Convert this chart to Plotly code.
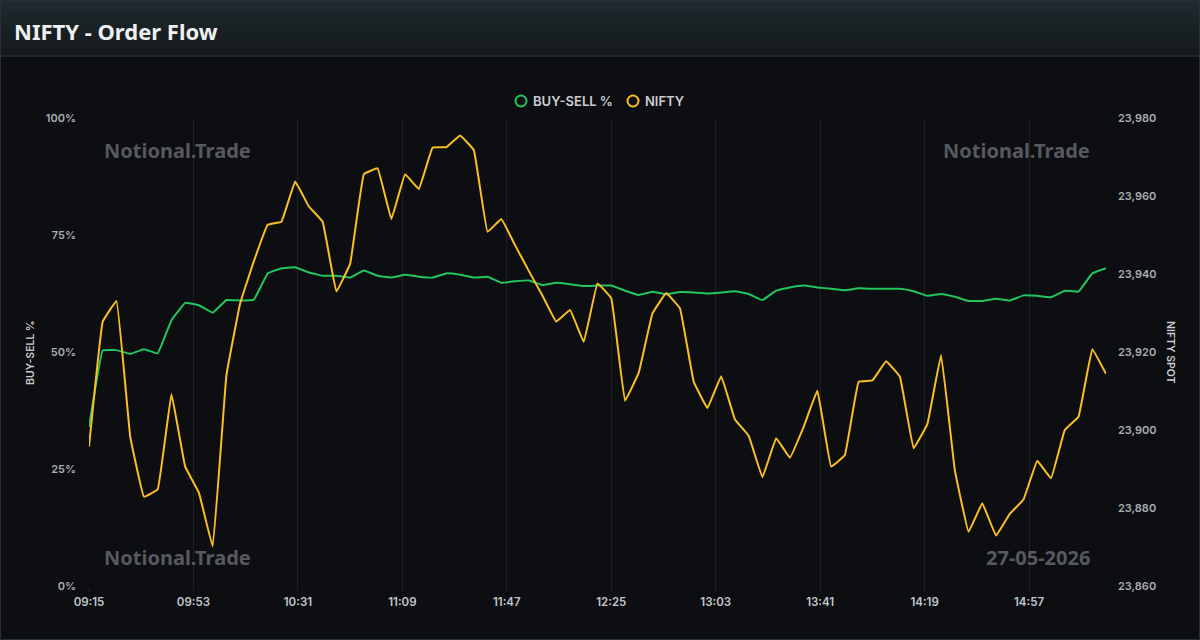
import pandas as pd
import plotly.graph_objects as go

# ---- data ----
times = pd.date_range("2026-05-27 09:15", "2026-05-27 15:25", freq="5min")

buy_sell_pct = [
    34.0, 50.3, 50.4, 49.6, 50.6, 49.7, 56.8, 60.5, 60.0, 58.4,
    61.1, 61.0, 61.2, 66.8, 67.9, 68.1, 67.0, 66.3, 66.3, 65.9,
    67.4, 66.3, 65.9, 66.5, 66.1, 65.9, 66.8, 66.5, 65.9, 66.1,
    64.8, 65.1, 65.3, 64.3, 64.8, 64.5, 64.1, 64.2, 64.2, 63.1,
    62.2, 62.9, 62.3, 62.8, 62.7, 62.5, 62.7, 63.0, 62.4, 61.1,
    63.1, 63.8, 64.2, 63.8, 63.5, 63.2, 63.6, 63.5, 63.5, 63.5,
    63.0, 62.0, 62.4, 61.8, 60.9, 60.9, 61.4, 61.0, 62.1, 62.0,
    61.7, 63.1, 62.9, 66.8, 67.9,
]

nifty_spot = [
    23895.7, 23927.8, 23933.1, 23898.3, 23882.9, 23884.8, 23909.2, 23890.6, 23883.9, 23870.1,
    23914.1, 23932.5, 23943.3, 23952.6, 23953.4, 23963.7, 23957.3, 23953.4, 23935.5, 23942.6,
    23965.6, 23967.1, 23954.1, 23965.6, 23961.8, 23972.4, 23972.5, 23975.5, 23971.8, 23950.8,
    23954.1, 23947.4, 23940.8, 23934.4, 23927.8, 23930.8, 23922.6, 23937.6, 23933.8, 23907.5,
    23914.7, 23929.9, 23935.1, 23931.2, 23912.4, 23905.6, 23913.8, 23902.7, 23898.5, 23887.9,
    23897.9, 23892.9, 23900.8, 23910.1, 23890.6, 23893.6, 23912.4, 23912.7, 23917.6, 23913.7,
    23895.3, 23901.5, 23919.2, 23889.7, 23873.9, 23881.2, 23872.9, 23878.5, 23882.2, 23892.1,
    23887.6, 23900.0, 23903.4, 23920.7, 23914.4,
]

series_names = ["BUY-SELL %", "NIFTY"]

x_tick_labels = ["09:15", "09:53", "10:31", "11:09", "11:47", "12:25", "13:03", "13:41", "14:19", "14:57"]
x_tick_vals = ["2026-05-27 " + t for t in x_tick_labels]

pct_ticks = [0, 25, 50, 75, 100]
pct_tick_labels = ["0%", "25%", "50%", "75%", "100%"]
spot_ticks = [23860, 23880, 23900, 23920, 23940, 23960, 23980]
spot_tick_labels = ["23,860", "23,880", "23,900", "23,920", "23,940", "23,960", "23,980"]

# ---- styles ----
GREEN = "#22c55e"
YELLOW = "#fbbf24"
BG = "#0c0e12"
TICK_COLOR = "#a9adb3"
W, H = 1200, 640
L, R, T, B = 89, 94, 118, 54
PW, PH = W - L - R, H - T - B


def px(xp):
    return (xp - L) / PW


def py(yp):
    return (H - B - yp) / PH


fig = go.Figure()

fig.add_trace(go.Scatter(
    x=times, y=buy_sell_pct, mode="lines", name=series_names[0],
    line=dict(color=GREEN, width=2, shape="spline", smoothing=0.2),
    showlegend=False, yaxis="y", hoverinfo="skip",
))
fig.add_trace(go.Scatter(
    x=times, y=nifty_spot, mode="lines", name=series_names[1],
    line=dict(color=YELLOW, width=2, shape="spline", smoothing=0.2),
    showlegend=False, yaxis="y2", hoverinfo="skip",
))

shapes = []
# header gradient
top_c = (30, 42, 46)
bot_c = (20, 26, 29)
n = 14
hh = 56
for i in range(n):
    y0 = i * hh / n
    y1 = (i + 1) * hh / n
    f = i / (n - 1)
    c = tuple(int(round(top_c[k] + (bot_c[k] - top_c[k]) * f)) for k in range(3))
    shapes.append(dict(type="rect", xref="paper", yref="paper",
                       x0=px(0), x1=px(W), y0=py(y1), y1=py(y0),
                       fillcolor="rgb(%d,%d,%d)" % c, line=dict(width=0), layer="below"))
shapes.append(dict(type="line", xref="paper", yref="paper",
                   x0=px(0), x1=px(W), y0=py(56), y1=py(56),
                   line=dict(color="#262e32", width=1.5), layer="below"))
# card border
shapes.append(dict(type="rect", xref="paper", yref="paper",
                   x0=px(0.5), x1=px(W - 0.5), y0=py(H - 0.5), y1=py(0.5),
                   line=dict(color="#2a2f34", width=1), fillcolor="rgba(0,0,0,0)", layer="above"))

# custom legend (circle markers + labels)
legend_font = dict(family="Inter", size=13, color="#c9ccd1", weight=600)
annotations = []
for name, col, cx in [(series_names[0], GREEN, 521), (series_names[1], YELLOW, 633)]:
    r = 5.5
    shapes.append(dict(type="circle", xref="paper", yref="paper",
                       x0=px(cx - r), x1=px(cx + r), y0=py(101 + r), y1=py(101 - r),
                       line=dict(color=col, width=2), fillcolor="rgba(0,0,0,0)"))
    annotations.append(dict(text=name, xref="paper", yref="paper", x=px(cx + 10), y=py(101),
                            xanchor="left", yanchor="middle", showarrow=False, font=legend_font))

annotations += [
    dict(text="NIFTY - Order Flow", xref="paper", yref="paper", x=px(12), y=py(31),
         xanchor="left", yanchor="middle", showarrow=False,
         font=dict(family="Noto Sans", size=22, color="#eef0f2", weight="bold")),
    dict(text="BUY-SELL %", xref="paper", yref="paper", x=px(30), y=py(353),
         textangle=-90, showarrow=False, xanchor="center", yanchor="middle",
         font=dict(family="Inter", size=10.5, color="#c9ccd1", weight=600)),
    dict(text="NIFTY SPOT", xref="paper", yref="paper", x=px(1171), y=py(352),
         textangle=90, showarrow=False, xanchor="center", yanchor="middle",
         font=dict(family="Inter", size=10.5, color="#c9ccd1", weight=600)),
]
wm_font = dict(family="Noto Sans", size=20, color="#56595e", weight="bold")
for txt, xx, yy, anc in [
    ("Notional.Trade", 102, 150, "left"),
    ("Notional.Trade", 1092, 150, "right"),
    ("Notional.Trade", 102, 557, "left"),
    ("27-05-2026", 1092, 557, "right"),
]:
    annotations.append(dict(text=txt, xref="paper", yref="paper", x=px(xx), y=py(yy),
                            xanchor=anc, yanchor="middle", showarrow=False, font=wm_font))

fig.update_layout(
    width=W, height=H,
    margin=dict(l=L, r=R, t=T, b=B, pad=0),
    paper_bgcolor=BG, plot_bgcolor=BG,
    showlegend=False,
    xaxis=dict(
        type="date",
        range=[times[0], times[-1]],
        tickvals=x_tick_vals, ticktext=x_tick_labels,
        showgrid=True, gridcolor="#1d2126", gridwidth=1,
        ticks="outside", ticklen=5, tickcolor="#1d2126",
        tickfont=dict(family="Inter", size=11.5, color="#c2c6cb", weight=600),
        zeroline=False, showline=False,
    ),
    yaxis=dict(
        range=[0, 100], tickvals=pct_ticks, ticktext=pct_tick_labels,
        showgrid=False, zeroline=False, showline=False,
        ticks="", ticklabelstandoff=12,
        tickfont=dict(family="Inter", size=11, color=TICK_COLOR, weight=600),
    ),
    yaxis2=dict(
        range=[23860, 23980], tickvals=spot_ticks, ticktext=spot_tick_labels,
        overlaying="y", side="right",
        showgrid=False, zeroline=False, showline=False,
        ticks="", ticklabelstandoff=11,
        tickfont=dict(family="Inter", size=11, color=TICK_COLOR, weight=600),
    ),
    shapes=shapes,
    annotations=annotations,
)

fig.write_html("out.html")
